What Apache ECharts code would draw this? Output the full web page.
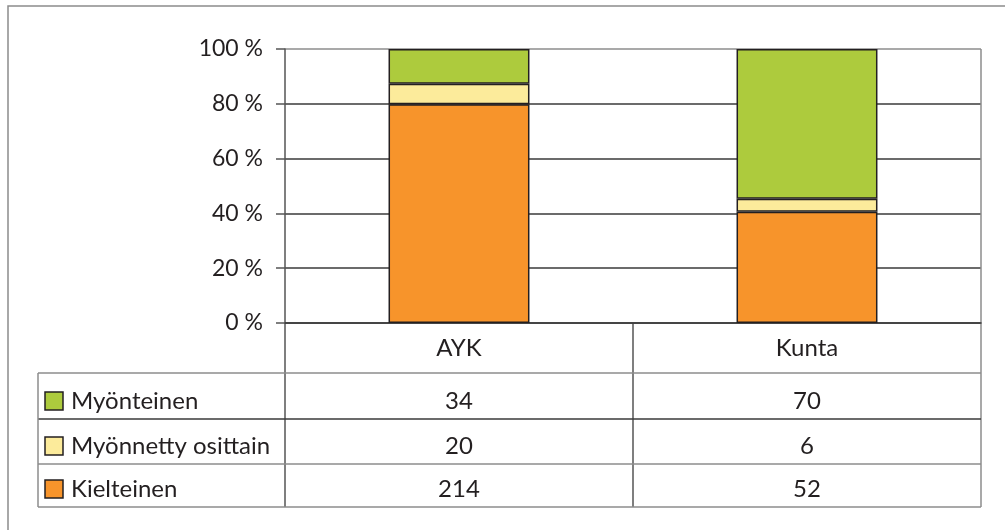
<!DOCTYPE html>
<html>
<head>
<meta charset="utf-8">
<script src="https://cdn.jsdelivr.net/npm/echarts@6/dist/echarts.min.js"></script>
<style>
  html, body { margin: 0; padding: 0; background: #fff; }
  #chart { width: 1005px; height: 530px; }
</style>
</head>
<body>
<div id="chart"></div>
<script>
// Decisions by decision-maker, counts per outcome
const categories = ['AYK', 'Kunta'];
const myonteinen = [34, 70];
const osittain = [20, 6];
const kielteinen = [214, 52];
const yTicks = [0, 20, 40, 60, 80, 100];

// Stack from bottom to top; the table lists them top to bottom
const stackSeries = [
  { name: 'Kielteinen', values: kielteinen, color: '#F7942B' },
  { name: 'Myönnetty osittain', values: osittain, color: '#FCEB9B' },
  { name: 'Myönteinen', values: myonteinen, color: '#ADCB3D' }
];
const tableRows = stackSeries.slice().reverse();

const totals = categories.map((_, i) => stackSeries.reduce((s, d) => s + d.values[i], 0));
const pct = (arr) => arr.map((v, i) => v / totals[i] * 100);

const FONT = 'Lato, "Open Sans", sans-serif';
const TEXT = '#231F20';
const DARK = '#3a3a3a';
const GREY = '#8c8c8c';

// Plot and table frame
const G = { left: 285, right: 981, top: 49, bottom: 323 };
const rowEdges = [323, 373, 419, 464, 507];
const tableLeft = 38;

const chart = echarts.init(document.getElementById('chart'), null, { renderer: 'canvas' });

chart.setOption({
  animation: false,
  backgroundColor: '#fff',
  textStyle: { fontFamily: FONT, color: TEXT },
  grid: { left: G.left, right: 1005 - G.right, top: G.top, bottom: 530 - G.bottom, containLabel: false },
  xAxis: {
    type: 'category',
    data: categories,
    axisLine: { show: true, lineStyle: { color: DARK, width: 1.5 } },
    axisTick: { show: false },
    axisLabel: { show: false },
    splitLine: { show: false }
  },
  yAxis: {
    type: 'value',
    min: yTicks[0],
    max: yTicks[yTicks.length - 1],
    interval: yTicks[1] - yTicks[0],
    axisLine: { show: true, lineStyle: { color: '#555', width: 1.5 } },
    axisTick: { show: true, length: 9, lineStyle: { color: '#555', width: 1.5 } },
    axisLabel: { margin: 22, fontSize: 23, color: TEXT, fontFamily: FONT, formatter: '{value} %' },
    splitLine: {
      show: true,
      lineStyle: { color: [DARK, DARK, DARK, DARK, DARK, GREY], width: 1.5 }
    }
  },
  series: stackSeries.map((s) => ({
    name: s.name,
    type: 'bar',
    stack: 'total',
    barWidth: '40.5%',
    data: pct(s.values),
    itemStyle: { color: s.color, borderColor: TEXT, borderWidth: 1.5 }
  }))
});

// Data table below the plot, aligned to the category axis
const toX = (c) => {
  const p = chart.convertToPixel({ xAxisIndex: 0 }, c);
  return Array.isArray(p) ? p[0] : p;
};
const centers = categories.map(toX);
const dividers = [];
for (let i = 0; i < centers.length - 1; i++) dividers.push((centers[i] + centers[i + 1]) / 2);

const g = [];
const line = (x1, y1, x2, y2, color, w) => g.push({
  type: 'line', shape: { x1, y1, x2, y2 }, style: { stroke: color, lineWidth: w || 1.5 }, silent: true
});

// outer frame
g.push({ type: 'rect', shape: { x: 8, y: 6, width: 1100, height: 600 }, style: { fill: null, stroke: GREY, lineWidth: 1.5 }, silent: true });

// right edge of plot + table
line(G.right, G.top, G.right, rowEdges[rowEdges.length - 1], GREY);
// y-axis continues through the table
line(G.left, G.bottom, G.left, rowEdges[rowEdges.length - 1], '#555');
// category dividers in the table
dividers.forEach((x) => line(x, G.bottom, x, rowEdges[rowEdges.length - 1], '#555'));
// row lines
line(tableLeft, rowEdges[1], G.right, rowEdges[1], GREY);
line(tableLeft, rowEdges[2], G.right, rowEdges[2], DARK);
line(tableLeft, rowEdges[3], G.right, rowEdges[3], GREY);
line(tableLeft, rowEdges[4], G.right, rowEdges[4], GREY);
line(tableLeft, rowEdges[1], tableLeft, rowEdges[4], GREY);

// header row: category names
categories.forEach((c, i) => g.push({
  type: 'text', x: centers[i], y: rowEdges[1] - 25, silent: true,
  style: { text: c, fill: TEXT, font: '24px ' + FONT, align: 'center', verticalAlign: 'middle' }
}));

// value rows with legend swatches
tableRows.forEach((s, r) => {
  const yc = rowEdges[r + 2] - 18;
  g.push({
    type: 'rect', shape: { x: 45, y: yc - 9, width: 18, height: 18 }, silent: true,
    style: { fill: s.color, stroke: TEXT, lineWidth: 1.5 }
  });
  g.push({
    type: 'text', x: 71, y: yc, silent: true,
    style: { text: s.name, fill: TEXT, font: '24px ' + FONT, align: 'left', verticalAlign: 'middle' }
  });
  categories.forEach((c, i) => g.push({
    type: 'text', x: centers[i], y: yc, silent: true,
    style: { text: String(s.values[i]), fill: TEXT, font: '24px ' + FONT, align: 'center', verticalAlign: 'middle' }
  }));
});

chart.setOption({ graphic: { elements: g } });
</script>
</body>
</html>
